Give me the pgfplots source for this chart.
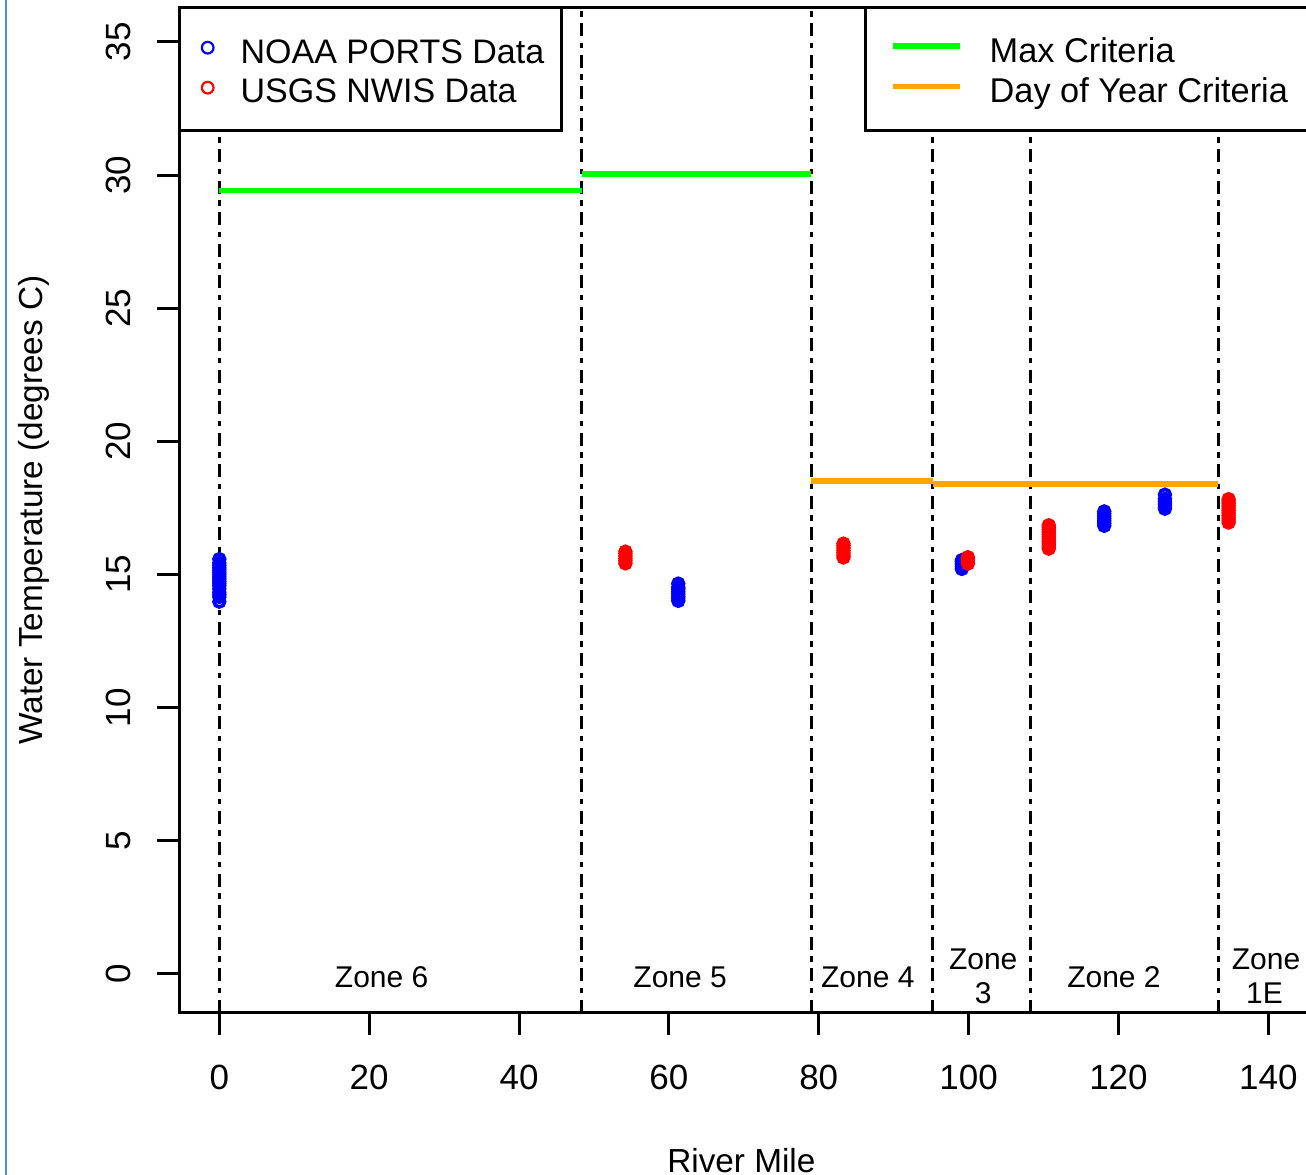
\documentclass[border=0pt]{standalone}
\usepackage{fontspec}
\setmainfont{Liberation Sans}
\usepackage{pgfplots}
\pgfplotsset{compat=1.18}
\definecolor{rblue}{RGB}{0,0,255}
\definecolor{rred}{RGB}{255,0,0}
\definecolor{rgreen}{RGB}{0,255,0}
\definecolor{rorange}{RGB}{255,165,0}
\definecolor{edgeblue}{RGB}{74,144,226}
\tikzset{zoneline/.style={black, line width=0.9pt, dash pattern=on 3.9pt off 1.95pt on 1.65pt off 1.95pt}}
\begin{document}
\begin{tikzpicture}
\useasboundingbox (0pt,0pt) rectangle (391.8pt,352.5pt);
\clip (0pt,0pt) rectangle (391.8pt,352.5pt);
\fill[white] (0pt,0pt) rectangle (391.8pt,352.5pt);
\draw[edgeblue, line width=0.6pt] (1.74pt,0pt) -- (1.74pt,352.5pt);
\begin{axis}[
  at={(53.79pt,48.69pt)}, anchor=south west,
  scale only axis, width=339.3pt, height=301.62pt,
  xmin=-5.34, xmax=145.6, ymin=-1.453, ymax=36.3,
  axis line style={line width=0.9pt},
  tick style={line width=0.9pt, black},
  tick align=outside, tick pos=left, major tick length=6.6pt,
  xtick={0,20,...,140}, ytick={0,5,...,35},
  minor tick num=0,
  /pgf/number format/assume math mode=true,
  tick label style={font=\fontsize{10.5}{12}\selectfont},
  xticklabel style={anchor=base, yshift=-16.4pt},
  yticklabel style={xshift=-7.9pt, rotate=90, anchor=base},
  xlabel={River Mile}, ylabel={Water Temperature (degrees C)},
  label style={font=\fontsize{11.1}{13}\selectfont},
  every axis x label/.style={at={(axis description cs:0.497,0)}, anchor=base, yshift=-47.8pt},
  every axis y label/.style={at={(axis description cs:0,0.5)}, xshift=-43.6pt, rotate=90, anchor=center},
]
% NOAA PORTS Data (blue)
\addplot[only marks, mark=o, mark size=1.6pt, rblue, mark options={line width=1.1pt}] coordinates {
 (0,13.98) (0,14.16) (0,14.25) (0,14.33) (0,14.46) (0,14.58) (0,14.66) (0,14.74) (0,14.83) (0,14.91)
 (0,15.00) (0,15.08) (0,15.17) (0,15.25) (0,15.34) (0,15.43) (0,15.58)
 (61.25,14.01) (61.25,14.10) (61.25,14.18) (61.25,14.27) (61.25,14.36) (61.25,14.45) (61.25,14.52) (61.25,14.66)
 (99.1,15.21) (99.1,15.30) (99.1,15.39) (99.1,15.48) (99.1,15.54)
 (118.1,16.83) (118.1,16.92) (118.1,17.01) (118.1,17.10) (118.1,17.19) (118.1,17.28) (118.1,17.37)
 (126.2,17.47) (126.2,17.56) (126.2,17.65) (126.2,17.74) (126.2,17.84) (126.2,18.00)
};
% USGS NWIS Data (red)
\addplot[only marks, mark=o, mark size=1.6pt, rred, mark options={line width=1.1pt}] coordinates {
 (54.2,15.42) (54.2,15.51) (54.2,15.60) (54.2,15.69) (54.2,15.78) (54.2,15.86)
 (83.3,15.64) (83.3,15.73) (83.3,15.82) (83.3,15.91) (83.3,16.00) (83.3,16.08) (83.3,16.16)
 (99.9,15.41) (99.9,15.50) (99.9,15.58) (99.9,15.65)
 (110.7,15.97) (110.7,16.06) (110.7,16.15) (110.7,16.24) (110.7,16.33) (110.7,16.42) (110.7,16.51) (110.7,16.60) (110.7,16.69) (110.7,16.78) (110.7,16.85)
 (134.7,16.95) (134.7,17.04) (134.7,17.13) (134.7,17.22) (134.7,17.31) (134.7,17.40) (134.7,17.49) (134.7,17.58) (134.7,17.67) (134.7,17.75) (134.7,17.83)
};
% zone boundaries
\addplot[zoneline] coordinates {(0,-1.453) (0,36.3)};
\addplot[zoneline] coordinates {(48.4,-1.453) (48.4,36.3)};
\addplot[zoneline] coordinates {(79,-1.453) (79,36.3)};
\addplot[zoneline] coordinates {(95.2,-1.453) (95.2,36.3)};
\addplot[zoneline] coordinates {(108.2,-1.453) (108.2,36.3)};
\addplot[zoneline] coordinates {(133.3,-1.453) (133.3,36.3)};
% criteria
\addplot[rgreen, line width=1.7pt] coordinates {(0,29.42) (48.4,29.42)};
\addplot[rgreen, line width=1.7pt] coordinates {(48.4,30.03) (79,30.03)};
\addplot[rorange, line width=1.7pt] coordinates {(79,18.52) (95.2,18.52)};
\addplot[rorange, line width=1.7pt] coordinates {(95.2,18.41) (133.3,18.41)};
% zone labels
\begin{scope}[every node/.style={font=\fontsize{9}{10}\selectfont, anchor=base, inner sep=0pt}]
\node at (axis cs:21.67,-0.514) {Zone 6};
\node at (axis cs:61.5,-0.514) {Zone 5};
\node at (axis cs:86.55,-0.514) {Zone 4};
\node at (axis cs:101.95,0.18) {Zone};
\node at (axis cs:101.95,-1.12) {3};
\node at (axis cs:119.4,-0.514) {Zone 2};
\node at (axis cs:139.7,0.18) {Zone};
\node at (axis cs:139.5,-1.12) {1E};
\end{scope}
\end{axis}
% legends (pixel coordinates, origin top-left)
\begin{scope}[x=0.3pt, y=-0.3pt, shift={(0pt,352.5pt)}]
\draw[fill=white, line width=0.9pt] (179.3,7.3) rectangle (561.3,131);
\draw[rblue, line width=0.65pt] (207.7,47.7) circle (1.75pt);
\draw[rred, line width=0.65pt] (207.7,87.7) circle (1.75pt);
\node[anchor=base west, inner sep=0pt, font=\fontsize{10.2}{12}\selectfont] at (240,63.3) {NOAA PORTS Data};
\node[anchor=base west, inner sep=0pt, font=\fontsize{10.2}{12}\selectfont] at (240,102.3) {USGS NWIS Data};
\draw[fill=white, line width=0.9pt] (865,7.3) rectangle (1320,131);
\draw[rgreen, line width=1.6pt] (893,46) -- (960,46);
\draw[rorange, line width=1.6pt] (893,86.7) -- (960,86.7);
\node[anchor=base west, inner sep=0pt, font=\fontsize{10.3}{12}\selectfont] at (989,62.7) {Max Criteria};
\node[anchor=base west, inner sep=0pt, font=\fontsize{10.3}{12}\selectfont] at (989,102.7) {Day of Year Criteria};
\end{scope}
\end{tikzpicture}
\end{document}
